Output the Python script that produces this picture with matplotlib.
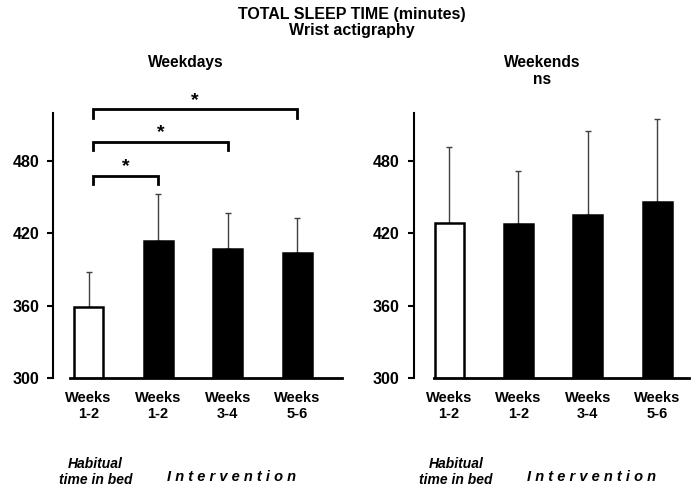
import matplotlib.pyplot as plt
import numpy as np

plt.rcParams['font.family'] = ['Liberation Sans', 'DejaVu Sans']
plt.rcParams['font.weight'] = 'bold'

# data (minutes)
groups = ["Weeks\n1-2", "Weeks\n1-2", "Weeks\n3-4", "Weeks\n5-6"]
weekday_mean = [359, 414, 407, 404]
weekday_sd = [29, 39, 30, 29]
weekend_mean = [429, 428, 435, 446]
weekend_sd = [63, 44, 70, 69]
bar_colors = ["white", "black", "black", "black"]
# significance brackets on weekdays: (from, to), height
sig_pairs = [(0, 1), (0, 2), (0, 3)]
sig_levels = [468, 496, 523]

W, H = 694, 490
fig = plt.figure(figsize=(W / 100, H / 100), dpi=100)


def px_axes(x0, x1, y0, y1):
    # pixel box -> figure fraction
    return fig.add_axes([x0 / W, 1 - y1 / H, (x1 - x0) / W, (y1 - y0) / H])


def draw_panel(ax, means, sds, xlo, xhi):
    x = np.arange(len(groups))
    ax.bar(x, means, width=0.42, color=bar_colors, edgecolor="black",
           linewidth=1.8, zorder=2)
    ax.errorbar(x, means, yerr=[np.zeros(len(sds)), sds], fmt="none",
                ecolor="#404040", elinewidth=1, capsize=2.5, capthick=1, zorder=1)
    ax.set_ylim(300, 520)
    ax.set_xlim(-0.51, xhi)
    ax.set_yticks([300, 360, 420, 480])
    ax.set_xticks(x)
    ax.set_xticklabels(groups, fontsize=10.5, fontweight="bold")
    ax.tick_params(axis="x", length=0, pad=9)
    ax.tick_params(axis="y", direction="out", length=4, width=1.5, pad=6,
                   labelsize=11.5)
    for s in ["top", "right"]:
        ax.spines[s].set_visible(False)
    ax.spines["left"].set_linewidth(1.5)
    ax.spines["bottom"].set_linewidth(2)
    ax.spines["bottom"].set_bounds(xlo, xhi)
    tr = ax.get_xaxis_transform()
    ax.text(0.1, -0.355, "Habitual\ntime in bed", transform=tr, ha="center",
            va="center", fontsize=10, style="italic", fontweight="bold",
            linespacing=1.15)
    ax.text(2.05, -0.375, " ".join("Intervention"), transform=tr, ha="center",
            va="center", fontsize=10.5, style="italic", fontweight="bold")


ax1 = px_axes(53, 342, 113, 378)
draw_panel(ax1, weekday_mean, weekday_sd, -0.27, 3.64)

ax2 = px_axes(413.7, 689, 113, 378)
draw_panel(ax2, weekend_mean, weekend_sd, -0.22, 3.46)

# significance brackets
for (a, b), lev in zip(sig_pairs, sig_levels):
    xa, xb = a + 0.065, b
    ax1.plot([xa, xa, xb, xb], [lev - 7, lev, lev, lev - 7], color="black",
             linewidth=2, clip_on=False, solid_joinstyle="miter")
    ax1.text((xa + xb) / 2, lev + 0.5, "*", ha="center", va="bottom",
             fontsize=14, fontweight="bold", clip_on=False)

fig.text(351.5 / W, 1 - 22.5 / H, "TOTAL SLEEP TIME (minutes)\nWrist actigraphy",
         ha="center", va="center", fontsize=11.5, fontweight="bold",
         linespacing=1.1)
fig.text(186 / W, 1 - 63 / H, "Weekdays", ha="center", va="center",
         fontsize=11.2, fontweight="bold")
fig.text(542 / W, 1 - 71 / H, "Weekends\nns", ha="center", va="center",
         fontsize=11.2, fontweight="bold", linespacing=1.15)

fig.savefig("out.png", dpi=100)
